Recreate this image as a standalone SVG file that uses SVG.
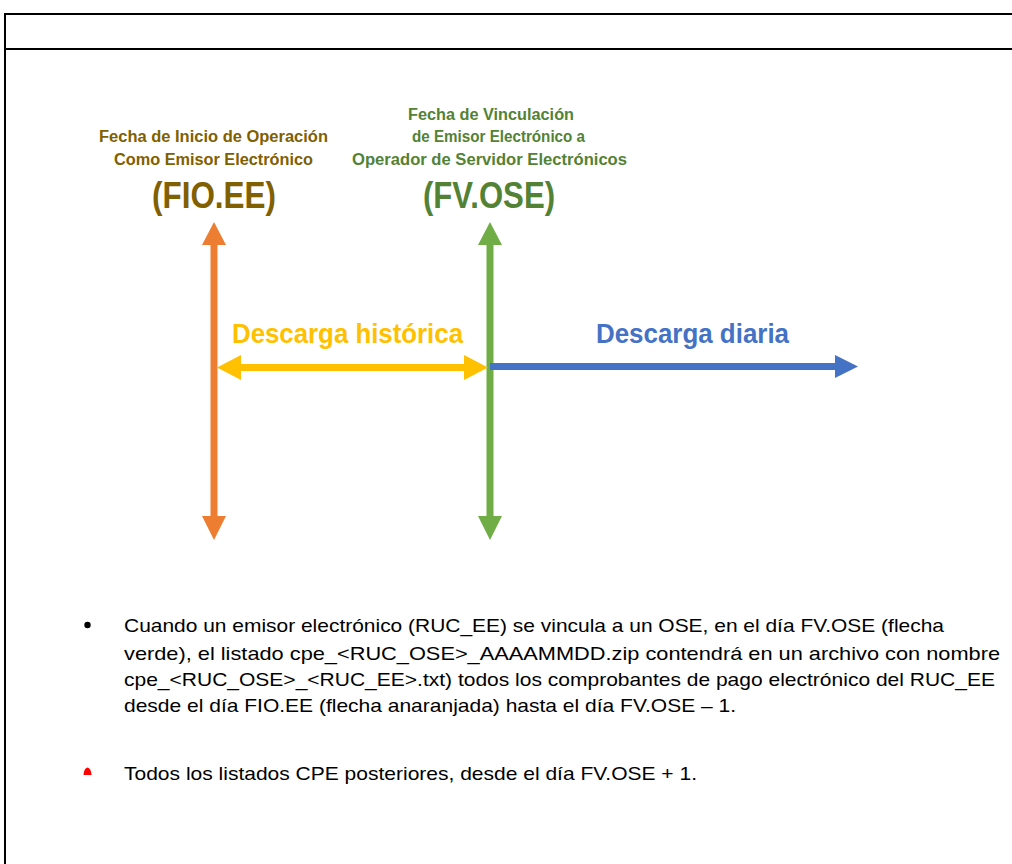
<svg xmlns="http://www.w3.org/2000/svg" width="1012" height="864" viewBox="0 0 1012 864">
<style>
.t{font-family:"Liberation Sans",Arial,sans-serif;font-weight:bold}
.b{font-family:"Liberation Sans",Arial,sans-serif;font-size:19px;fill:#000}
.brown{fill:#806000}
.dgreen{fill:#548235}
</style>
<rect width="1012" height="864" fill="#fff"/>
<g id="frame" stroke="#000" stroke-width="2" fill="none">
<line x1="5" y1="14" x2="1012" y2="14"/>
<line x1="5" y1="49" x2="1012" y2="49"/>
<line x1="5" y1="13" x2="5" y2="864"/>
</g>
<g id="fioee">
<text class="t brown" x="213.5" y="142" font-size="16" text-anchor="middle" textLength="229" lengthAdjust="spacingAndGlyphs">Fecha de Inicio de Operación</text>
<text class="t brown" x="213.5" y="165" font-size="16" text-anchor="middle" textLength="199" lengthAdjust="spacingAndGlyphs">Como Emisor Electrónico</text>
<text class="t brown" x="214" y="208" font-size="36" text-anchor="middle" textLength="124" lengthAdjust="spacingAndGlyphs">(FIO.EE)</text>
</g>
<g id="fvose">
<text class="t dgreen" x="491" y="120" font-size="16" text-anchor="middle" textLength="166" lengthAdjust="spacingAndGlyphs">Fecha de Vinculación</text>
<text class="t dgreen" x="498.5" y="142" font-size="16" text-anchor="middle" textLength="173" lengthAdjust="spacingAndGlyphs">de Emisor Electrónico a</text>
<text class="t dgreen" x="489.5" y="165" font-size="16" text-anchor="middle" textLength="275" lengthAdjust="spacingAndGlyphs">Operador de Servidor Electrónicos</text>
<text class="t dgreen" x="489" y="208" font-size="36" text-anchor="middle" textLength="132" lengthAdjust="spacingAndGlyphs">(FV.OSE)</text>
</g>
<g id="connectors">
<g id="orange-arrow" fill="#ED7D31">
<rect x="210.5" y="243" width="7" height="276"/>
<polygon points="214,222 226,245 202,245"/>
<polygon points="214,540 226,516 202,516"/>
</g>
<g id="green-arrow" fill="#70AD47">
<rect x="486.5" y="243" width="7" height="276"/>
<polygon points="490,222 502,245 478,245"/>
<polygon points="490,540 502,516 478,516"/>
</g>
<g id="yellow-arrow" fill="#FFC000">
<rect x="238" y="364" width="228" height="7"/>
<polygon points="217,367.5 241,355 241,380"/>
<polygon points="488,367.5 464,355 464,380"/>
</g>
<g id="blue-arrow" fill="#4472C4">
<rect x="490" y="363" width="348" height="7"/>
<polygon points="858,366.5 835,355 835,378"/>
</g>
</g>
<g id="labels">
<text class="t" x="347.5" y="343" font-size="27" fill="#FFC000" text-anchor="middle" textLength="231" lengthAdjust="spacingAndGlyphs">Descarga histórica</text>
<text class="t" x="692.5" y="343" font-size="27" fill="#4472C4" text-anchor="middle" textLength="193" lengthAdjust="spacingAndGlyphs">Descarga diaria</text>
</g>
<g id="notes">
<circle cx="87.5" cy="625" r="3.2" fill="#000"/>
<text class="b" x="124" y="632" textLength="820" lengthAdjust="spacingAndGlyphs">Cuando un emisor electrónico (RUC_EE) se vincula a un OSE, en el día FV.OSE (flecha</text>
<text class="b" x="124" y="660" textLength="876" lengthAdjust="spacingAndGlyphs">verde), el listado cpe_&lt;RUC_OSE&gt;_AAAAMMDD.zip contendrá en un archivo con nombre</text>
<text class="b" x="124" y="686" textLength="871" lengthAdjust="spacingAndGlyphs">cpe_&lt;RUC_OSE&gt;_&lt;RUC_EE&gt;.txt) todos los comprobantes de pago electrónico del RUC_EE</text>
<text class="b" x="124" y="712" textLength="612" lengthAdjust="spacingAndGlyphs">desde el día FIO.EE (flecha anaranjada) hasta el día FV.OSE – 1.</text>
<path d="M83.5,775 Q84,768 87.5,767.5 Q91,768 91.5,775 Z" fill="#FF0000"/>
<text class="b" x="124" y="780" textLength="573" lengthAdjust="spacingAndGlyphs">Todos los listados CPE posteriores, desde el día FV.OSE + 1.</text>
</g>
</svg>
